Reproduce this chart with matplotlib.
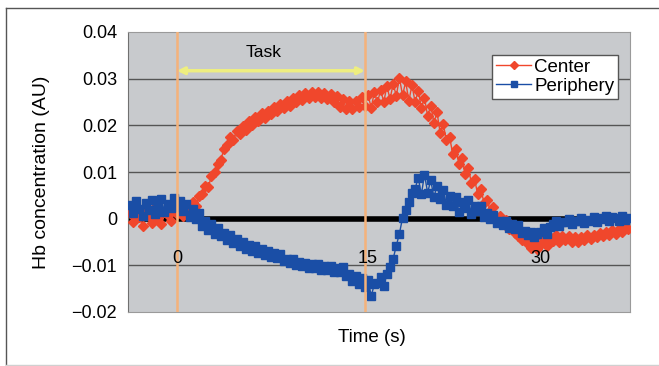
import numpy as np
import matplotlib
matplotlib.use("Agg")
import matplotlib.pyplot as plt
from matplotlib.lines import Line2D

plt.rcParams['font.family'] = ['Liberation Sans', 'DejaVu Sans']

# sample times (s), 4 samples per second
time_s = np.arange(-3.75, 36.01, 0.25)

# Hb concentration, in units of 0.001 AU
center_mau = [
    1.2, -0.8, 2.0, 0.3, -1.5, 1.8, 0.6, -1.0, 2.4, 0.2, -1.2, 1.5, 0.8, -0.5, 2.2,
    1.0, 2.6, 0.5, 2.9,
    2.0, 3.6, 2.8, 4.9,
    5.2, 7.0, 6.8, 9.1,
    10.0, 11.8, 12.6, 15.0,
    15.8, 17.6, 16.9, 18.8,
    18.2, 19.9, 19.0, 21.0,
    20.1, 21.8, 20.9, 22.6,
    21.5, 23.0, 22.4, 24.0,
    23.0, 24.6, 23.8, 25.3,
    24.2, 25.8, 25.0, 26.5,
    25.4, 26.9, 25.9, 27.1,
    26.0, 27.2, 25.8, 26.9,
    25.6, 26.8, 24.9, 26.2,
    24.0, 25.6, 23.6, 25.2,
    23.4, 25.3, 23.9, 26.0,
    24.2, 26.4, 23.8, 27.1,
    24.9, 27.6, 25.0, 28.4,
    25.6, 28.9, 26.3, 30.2,
    26.4, 29.4, 25.2, 28.6,
    25.0, 27.4, 23.8, 25.9,
    22.0, 24.2, 20.6, 22.8,
    18.4, 20.2, 16.8, 17.6,
    13.9, 15.0, 11.8, 12.9,
    9.6, 10.8, 7.6, 8.4,
    5.2, 6.3, 3.4, 4.1,
    1.6, 2.4, 0.2, 0.6,
    -0.8, -0.2, -2.2, -1.8,
    -3.0, -3.8, -4.6, -4.2,
    -5.4, -6.2, -5.0, -6.4,
    -5.6, -4.4, -5.8, -4.0,
    -4.8, -3.6, -5.0, -3.8,
    -4.6, -3.8, -5.0, -4.0,
    -4.9, -3.9, -4.6, -3.6,
    -4.4, -3.4, -4.0, -3.0,
    -3.8, -2.8, -3.4, -2.4,
    -3.2, -2.2, -2.8, -1.8,
    -2.2,
]

periphery_mau = [
    3.0, 1.2, 3.8, 2.0, 0.6, 3.4, 1.8, 3.9, 1.0, 2.6, 4.2, 1.5, 3.2, 2.2, 4.4,
    2.4, 3.8, 1.6, 3.2,
    0.4, 2.0, 0.0, 1.2,
    -1.6, -0.6, -2.4, -1.2,
    -3.2, -2.0, -3.8, -3.0,
    -4.6, -3.6, -5.2, -4.4,
    -5.8, -4.9, -6.4, -5.6,
    -6.9, -5.8, -7.4, -6.6,
    -7.8, -6.9, -8.2, -7.4,
    -8.4, -7.6, -9.0, -8.6,
    -9.4, -8.6, -9.9, -9.2,
    -10.2, -9.4, -10.6, -9.8,
    -10.6, -9.8, -11.0, -10.2,
    -11.0, -10.2, -11.4, -10.6,
    -11.4, -10.4, -12.2, -11.8,
    -13.4, -12.2, -14.0, -12.8,
    -14.6, -13.2, -16.6, -14.0,
    -13.8, -12.6, -14.4, -11.8,
    -10.4, -8.6, -5.8, -3.2,
    0.2, 1.8, 3.6, 5.4,
    6.4, 8.8, 5.2, 9.4,
    5.6, 8.2, 4.6, 7.0,
    4.2, 6.2, 3.0, 4.8,
    2.8, 4.6, 1.4, 3.6,
    2.2, 4.0, 1.0, 2.8,
    1.6, 2.8, 0.4, 1.2,
    0.0, 0.8, -1.0, -0.4,
    -1.4, -0.6, -2.0, -1.2,
    -2.2, -1.4, -3.0, -2.6,
    -3.6, -2.8, -4.0, -3.2,
    -2.8, -2.0, -3.2, -1.8,
    -1.2, -0.4, -1.6, -0.8,
    -0.8, 0.0, -1.2, -0.4,
    -0.6, 0.2, -1.0, -0.2,
    -0.4, 0.4, -0.8, 0.2,
    0.0, 0.6, -0.6, 0.4,
    0.2, -0.4, 0.6, -0.2,
    0.2,
]

center = np.array(center_mau) * 1e-3
periphery = np.array(periphery_mau) * 1e-3

task_start, task_end = 0, 15
yticks = [-0.02, -0.01, 0, 0.01, 0.02, 0.03, 0.04]
ytick_labels = ['\u22120.02', '\u22120.01', '0', '0.01', '0.02', '0.03', '0.04']
xtick_pos = [0, 15.2, 29]
xtick_labels = ['0', '15', '30']

red = '#f0472c'
blue = '#1a4ea6'
orange = '#f5b27a'

fig = plt.figure(figsize=(6.59, 3.66), dpi=100)
ax = fig.add_axes([128 / 659, 54 / 366, 502 / 659, 280 / 366])
ax.set_facecolor('#c8cacd')

ax.set_xlim(-3.91, 36.15)
ax.set_ylim(-0.02, 0.04)
ax.set_yticks(yticks)
ax.set_yticklabels(ytick_labels, fontsize=13)
ax.set_xticks([])
ax.tick_params(axis='y', length=0, pad=8)
for y in yticks[1:-1]:
    ax.axhline(y, color='#555555', lw=1, zorder=1)
for s in ax.spines.values():
    s.set_color('#9a9a9a')
ax.spines['left'].set_color('#707070')

# zero baseline
ax.axhline(0, color='black', lw=4, zorder=2)

ax.plot(time_s, center, color=red, marker='D', ms=5.5, lw=1,
        label='Center', zorder=3)
ax.plot(time_s, periphery, color=blue, marker='s', ms=5.5, lw=1,
        label='Periphery', zorder=4)

# task window
for t in (task_start, task_end):
    ax.axvline(t, color=orange, lw=1.8, zorder=5)
ax.annotate('', xy=(task_end, 0.0317), xytext=(task_start, 0.0317),
            arrowprops=dict(arrowstyle='<|-|>', color='#eeee80', lw=2.5,
                            mutation_scale=10, shrinkA=0, shrinkB=0),
            zorder=6)
ax.text(6.9, 0.0357, 'Task', fontsize=12.5, ha='center', va='center', zorder=6)

for x, lab in zip(xtick_pos, xtick_labels):
    ax.text(x, -0.0085, lab, fontsize=13, ha='center', va='center', zorder=6)

ax.set_ylabel('Hb concentration (AU)', fontsize=14)
ax.yaxis.set_label_coords(-0.156, 0.5)
fig.text(372 / 659, 1 - 338 / 366, 'Time (s)', fontsize=13.5,
         ha='center', va='center')

leg = ax.legend(loc='upper right', bbox_to_anchor=(618 / 659, 1 - 55 / 366),
                bbox_transform=fig.transFigure, fontsize=13.5, numpoints=1,
                fancybox=False, framealpha=1, edgecolor='#555555',
                borderpad=0.2, labelspacing=0.1, handlelength=1.9,
                handletextpad=0.15, borderaxespad=0)
leg.get_frame().set_linewidth(1)
for h in leg.legend_handles:
    h.set_markersize(4.5)

# outer frame: dark left/top edges, faint bottom edge
x0, y_top, y_bot = 5.5 / 659, 1 - 7.5 / 366, 1.5 / 366
fig.add_artist(Line2D([x0, x0], [y_bot, y_top], transform=fig.transFigure,
                      color='#555555', lw=1))
fig.add_artist(Line2D([x0, 1], [y_top, y_top], transform=fig.transFigure,
                      color='#555555', lw=1))
fig.add_artist(Line2D([x0, 1], [y_bot, y_bot], transform=fig.transFigure,
                      color='#d0d0d0', lw=1))

fig.savefig('out.png', dpi=100)
